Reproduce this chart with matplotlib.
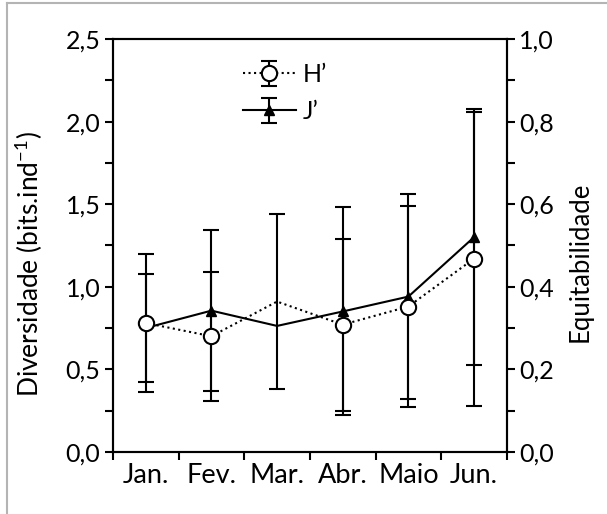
import numpy as np
import matplotlib
matplotlib.use('Agg')
import matplotlib.pyplot as plt
from matplotlib.ticker import MultipleLocator, FuncFormatter, FixedLocator
from matplotlib.lines import Line2D

plt.rcParams['font.family'] = ['Lato', 'DejaVu Sans']
plt.rcParams['mathtext.fontset'] = 'custom'
plt.rcParams['mathtext.rm'] = 'Lato'
plt.rcParams['mathtext.it'] = 'Lato'

# dados
meses = ['Jan.', 'Fev.', 'Mar.', 'Abr.', 'Maio', 'Jun.']
H = [0.78, 0.70, 0.91, 0.77, 0.88, 1.17]          # diversidade H'
H_err = [0.42, 0.39, 0.53, 0.52, 0.61, 0.89]
J = [0.300, 0.342, 0.305, 0.340, 0.376, 0.520]    # equitabilidade J'
J_err = [0.131, 0.195, np.nan, 0.252, 0.248, 0.310]
marc_H = [0, 1, 3, 4, 5]                          # Mar. sem marcador
marc_J = [1, 3, 4, 5]

x = np.arange(1, len(meses) + 1)
fs = 18
lw = 1.5

fig = plt.figure(figsize=(6.07, 5.14), dpi=100)
ax = fig.add_axes([0.186, 0.121, 0.649, 0.803])
ax2 = ax.twinx()

# J' no eixo da direita
l2 = ax2.errorbar(x, J, yerr=J_err, color='black', lw=lw, ls='-',
                  marker='^', ms=7, markevery=marc_J,
                  ecolor='black', elinewidth=lw, capsize=5.5, capthick=lw,
                  label='J’')

# H' no eixo da esquerda (desenhado por cima)
l1 = ax.errorbar(x, H, yerr=H_err, color='black', lw=lw, ls=':',
                 marker='o', ms=11, mfc='white', mec='black', mew=1.5,
                 markevery=marc_H,
                 ecolor='black', elinewidth=lw, capsize=5.5, capthick=lw,
                 label='H’')
ax.set_zorder(ax2.get_zorder() + 1)
ax.patch.set_visible(False)

fmt = FuncFormatter(lambda v, _: f'{v:.1f}'.replace('.', ','))

ax.set_xlim(0.5, 6.5)
ax.set_ylim(0, 2.5)
ax.yaxis.set_major_locator(MultipleLocator(0.5))
ax.yaxis.set_minor_locator(MultipleLocator(0.25))
ax.yaxis.set_major_formatter(fmt)
ax.set_xticks(x)
ax.set_xticklabels(meses)
ax.xaxis.set_minor_locator(FixedLocator(np.arange(0.5, 7, 1)))
ax.tick_params(axis='x', which='major', length=0, labelsize=19.5, pad=8)
ax.tick_params(axis='x', which='minor', length=6, width=lw, direction='out')
ax.tick_params(axis='y', which='both', length=6, width=lw, direction='out',
               labelsize=fs, pad=3)

ax2.set_ylim(0, 1.0)
ax2.yaxis.set_major_locator(MultipleLocator(0.2))
ax2.yaxis.set_minor_locator(MultipleLocator(0.1))
ax2.yaxis.set_major_formatter(fmt)
ax2.tick_params(axis='y', which='both', length=6, width=lw, direction='out',
                labelsize=fs, pad=3)

for a in (ax, ax2):
    for s in a.spines.values():
        s.set_linewidth(lw)

ax.set_ylabel('Diversidade (bits.ind$^{-1}$)', fontsize=19)
ax.yaxis.set_label_coords(-0.172, 0.455)
ax2.set_ylabel('Equitabilidade', fontsize=18.5)
ax2.yaxis.set_label_coords(1.155, 0.46)

ax.legend([l1, l2], ['H’', 'J’'], loc='upper left',
          bbox_to_anchor=(0.28, 0.99), frameon=False, fontsize=fs,
          handlelength=2.1, handletextpad=0.3, labelspacing=0.55,
          borderpad=0.3)

# moldura cinza da figura
fig.add_artist(Line2D([0.012, 0.012], [0, 0.994], transform=fig.transFigure,
                      color='#b4b4b4', lw=1.5))
fig.add_artist(Line2D([0.012, 1], [0.994, 0.994], transform=fig.transFigure,
                      color='#b4b4b4', lw=1.5))

fig.savefig('out.png', dpi=100)
